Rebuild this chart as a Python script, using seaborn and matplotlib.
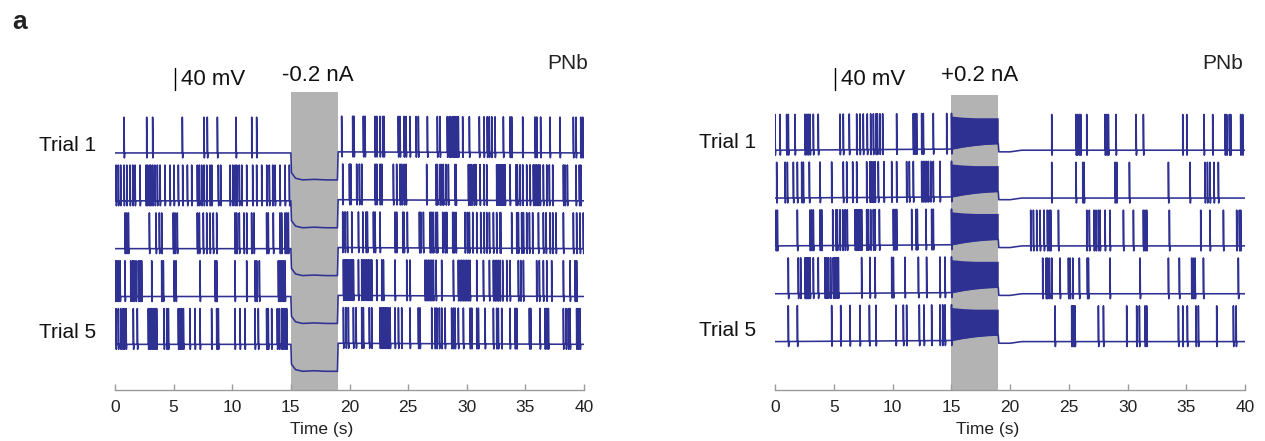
import numpy as np
import pandas as pd
import seaborn as sns
import matplotlib.pyplot as plt

# ---------------- data ----------------
trial_names = ["Trial 1", "Trial 2", "Trial 3", "Trial 4", "Trial 5"]
xticks = [0, 5, 10, 15, 20, 25, 30, 35, 40]
stim_window = [15.0, 19.0]  # s

# spike times (s), left panel (-0.2 nA)
left_spikes = [
    [0.77, 2.70, 3.21, 5.74, 7.59, 7.87, 8.73, 10.32, 11.66, 12.08,
     19.33, 20.27, 20.38, 21.18, 21.32, 22.17, 22.32, 22.60, 22.83, 22.94, 24.16, 24.31,
     24.65, 24.82, 25.16, 25.67, 25.87, 26.64, 27.49, 27.72, 28.34, 28.51, 28.63, 28.80,
     28.91, 29.03, 29.14, 29.28, 29.65, 30.22, 31.07, 31.47, 31.75, 31.92, 32.13, 32.41,
     33.12, 33.69, 33.83, 34.77, 35.82, 35.97, 36.30, 37.10, 37.95, 39.09, 39.32, 39.72, 39.89],
    [0.09, 0.28, 0.48, 0.77, 1.00, 1.28, 1.51, 1.71, 2.13, 2.64, 2.76, 2.93, 3.04, 3.21,
     3.41, 3.61, 3.84, 4.26, 4.69, 5.03, 5.40, 5.77, 6.17, 6.54, 7.02, 7.19, 7.39, 7.59,
     7.82, 8.10, 8.25, 8.81, 9.01, 9.81, 10.04, 10.23, 10.38, 10.60, 10.81, 11.23, 11.74,
     12.08, 12.51, 12.94, 13.16, 13.45, 13.65, 14.07, 14.50, 14.87,
     19.42, 19.99, 20.10, 20.61, 20.84, 21.04, 22.18, 22.32, 22.60, 22.75, 23.74, 24.02,
     24.31, 24.45, 24.65, 24.82, 26.58, 27.38, 27.49, 27.72, 27.86, 28.00, 28.23, 28.43,
     29.00, 29.08, 30.14, 30.28, 30.42, 30.62, 30.79, 31.13, 31.47, 31.70, 32.55, 32.69,
     32.84, 32.98, 33.12, 33.26, 33.69, 34.20, 34.31, 34.54, 34.77, 35.11, 35.40, 35.68,
     35.82, 35.96, 36.11, 36.25, 36.53, 36.82, 37.04, 37.33, 38.24, 38.38, 38.58, 39.32,
     39.60, 39.72],
    [0.85, 0.99, 1.14, 2.93, 3.50, 3.78, 3.98, 4.97, 5.12, 5.31, 7.02, 7.19, 7.53, 7.82,
     8.10, 8.38, 8.67, 10.23, 10.37, 10.60, 11.00, 11.23, 11.65, 11.85, 12.93, 13.07,
     13.50, 14.07, 14.21, 14.50, 14.64, 14.78,
     19.42, 19.62, 19.82, 20.19, 20.76, 21.13, 21.41, 21.52, 22.04, 22.18, 22.60, 23.88,
     24.02, 24.54, 24.65, 24.93, 25.96, 26.07, 26.30, 26.87, 27.01, 27.15, 27.38, 27.49,
     27.95, 28.15, 28.29, 28.80, 28.91, 29.08, 29.85, 30.05, 30.22, 30.51, 30.85, 31.19,
     31.47, 31.70, 31.93, 32.27, 32.55, 32.84, 32.89, 33.83, 34.26, 34.40, 34.68, 34.83,
     35.11, 35.34, 35.62, 36.11, 36.53, 36.76, 37.10, 37.33, 37.61, 38.24, 39.09, 39.37,
     39.66, 39.94],
    [0.00, 0.14, 0.28, 0.43, 0.85, 1.34, 1.51, 1.62, 1.79, 1.99, 2.13, 2.27, 3.13, 3.98,
     4.12, 5.03, 5.20, 7.25, 8.53, 8.61, 8.67, 10.23, 11.23, 11.94, 12.08, 12.31, 13.93,
     14.07, 14.21, 14.35, 14.50,
     19.48, 19.62, 19.76, 19.90, 20.05, 20.19, 20.33, 20.76, 21.04, 21.18, 21.32, 21.47,
     21.61, 21.75, 21.89, 22.32, 22.75, 22.89, 23.88, 24.88, 25.16, 26.44, 26.58, 26.73,
     26.87, 27.01, 27.15, 27.38, 27.86, 28.86, 29.28, 29.43, 29.57, 29.71, 29.85, 29.99,
     30.14, 30.28, 30.85, 31.42, 31.93, 32.27, 32.41, 32.55, 32.69, 32.84, 33.06, 33.41,
     33.69, 34.40, 34.60, 34.83, 35.96, 36.19, 36.53, 36.82, 37.24, 38.24, 38.81, 39.23,
     39.37],
    [0.08, 0.28, 0.48, 0.65, 0.77, 0.94, 1.56, 1.90, 2.84, 2.98, 3.13, 3.27, 3.41, 3.55,
     4.18, 4.41, 4.55, 5.40, 5.54, 5.68, 5.83, 6.39, 6.82, 7.25, 8.24, 8.67, 8.81, 10.23,
     10.66, 11.08, 11.94, 12.22, 12.93, 13.07, 13.36, 13.84, 14.01, 14.21, 14.35, 14.50,
     14.64,
     19.48, 19.70, 19.90, 20.33, 20.56, 21.04, 21.18, 21.69, 21.89, 22.60, 22.75, 22.89,
     23.03, 23.17, 23.31, 23.46, 23.88, 24.17, 24.45, 25.16, 25.87, 26.01, 27.01, 27.29,
     27.44, 27.66, 27.86, 28.15, 28.71, 28.86, 29.00, 29.28, 29.71, 30.28, 30.42, 30.85,
     30.99, 31.56, 32.27, 32.55, 32.69, 32.98, 33.69, 34.12, 34.26, 35.34, 35.45, 36.25,
     36.67, 36.82, 36.96, 38.24, 38.47, 38.66, 38.81, 39.37, 39.52, 39.66],
]

# spike times (s), right panel (+0.2 nA)
right_spikes = [
    [0.00, 0.42, 0.99, 1.13, 1.70, 2.55, 2.69, 2.83, 2.98, 3.26, 3.68, 5.53, 5.81, 6.32,
     6.95, 7.23, 7.51, 7.85, 8.14, 8.37, 8.59, 8.71, 8.93, 9.16, 10.35, 11.77, 11.91,
     12.05, 12.48, 12.62, 13.47, 14.61, 15.02,
     23.55, 25.62, 25.73, 25.90, 26.02, 26.53, 28.09, 28.23, 28.37, 29.02, 30.73, 31.35,
     34.70, 35.04, 36.51, 37.25, 38.30, 38.44, 38.67, 38.78, 39.63, 39.80],
    [0.14, 0.85, 1.05, 1.56, 1.90, 2.27, 2.41, 2.92, 3.83, 4.82, 5.81, 6.10, 6.61, 6.95,
     7.80, 8.08, 8.22, 8.37, 8.51, 8.79, 9.27, 9.93, 10.35, 11.20, 11.43, 11.77, 12.48,
     12.62, 12.76, 12.90, 13.05, 13.25, 13.47, 14.04, 15.02,
     23.55, 25.62, 26.19, 26.30, 28.94, 29.08, 30.16, 33.48, 35.32, 36.60, 36.80, 37.02,
     37.36, 37.73],
    [0.08, 0.20, 1.90, 2.98, 3.12, 3.26, 3.83, 3.97, 4.91, 5.19, 5.30, 5.53, 5.76, 5.96,
     6.15, 6.81, 6.95, 7.09, 7.23, 7.37, 7.80, 7.94, 8.14, 8.37, 8.51, 8.88, 10.07, 10.21,
     10.35, 11.63, 12.00, 12.11, 12.85, 13.33, 13.47, 15.02,
     21.76, 21.99, 22.27, 22.56, 22.90, 23.18, 23.35, 23.46, 24.12, 26.53, 26.75, 27.15,
     27.32, 27.52, 27.66, 28.09, 28.51, 29.65, 30.50, 31.35, 31.49, 31.63, 33.56, 36.23,
     37.02, 38.16, 39.29, 39.52, 39.63],
    [1.13, 1.98, 2.18, 2.55, 2.63, 2.69, 2.75, 2.83, 2.92, 2.98, 3.26, 3.68, 4.25, 4.39,
     4.54, 4.73, 4.96, 5.10, 5.25, 5.39, 7.37, 8.08, 8.51, 9.93, 10.07, 11.06, 12.20,
     12.90, 14.04, 14.47, 15.02,
     22.78, 23.07, 23.18, 23.35, 23.55, 24.26, 24.97, 25.11, 25.34, 25.90, 26.58, 26.67,
     28.51, 31.07, 33.48, 34.41, 35.46, 35.60, 35.75, 36.46, 39.43],
    [1.13, 1.90, 4.82, 5.59, 6.38, 7.23, 8.03, 8.59, 10.29, 10.92, 11.20, 12.28, 12.68,
     13.33, 14.04, 14.27, 14.47, 15.02,
     23.83, 25.25, 25.34, 25.45, 25.53, 27.52, 27.95, 29.93, 30.78, 31.01, 31.49, 31.63,
     34.33, 34.70, 35.09, 35.83, 36.03, 37.59, 39.01, 39.24],
]

# membrane level (mV, relative to rest) at knot times
left_knot_t = [0.0, 15.0, 15.05, 15.4, 16.0, 17.0, 18.0, 18.97, 19.03, 40.0]
left_knot_v = [0.0, 0.0, -36.0, -46.0, -49.0, -48.0, -49.0, -49.0, 2.0, 0.0]
right_knot_t = [0.0, 15.0, 16.0, 17.0, 18.0, 19.0, 19.05, 20.0, 21.0, 40.0]
right_knot_v = [0.0, 2.0, 6.0, 9.0, 11.0, 12.0, -3.0, -3.0, 0.0, 0.0]
# high-frequency firing envelope during +0.2 nA step (mV above rest)
band_t = [15.0, 16.0, 17.0, 18.0, 19.0]
band_top = [62.0, 60.0, 59.0, 59.0, 59.0]
band_bottom = [2.0, 6.0, 9.0, 11.0, 12.0]

trial_spacing = 87.0     # mV between stacked trials
spike_amp = 65.0         # mV
spike_under = 9.0        # mV
right_offset = 5.0       # mV

# ---------------- build traces ----------------
def build(spikes, kt, kv, base):
    ts = list(kt)
    for s in spikes:
        ts += [s, s + 0.001, s + 0.03, s + 0.06]
    ts = np.array(sorted(ts))
    vs = base + np.interp(ts, kt, kv)
    spk = np.array(spikes)
    peak_idx = np.searchsorted(ts, spk + 0.001)
    under_idx = np.searchsorted(ts, spk + 0.03)
    vs[peak_idx] += spike_amp
    vs[under_idx] -= spike_under
    return ts, vs

rows = []
for panel, spk_lists, kt, kv, off in [("L", left_spikes, left_knot_t, left_knot_v, 0.0),
                                     ("R", right_spikes, right_knot_t, right_knot_v, right_offset)]:
    for i, spikes in enumerate(spk_lists):
        base = off - trial_spacing * i
        t, v = build(spikes, kt, kv, base)
        rows.append(pd.DataFrame({"panel": panel, "trial": i, "t": t, "v": v}))
df = pd.concat(rows, ignore_index=True)

# ---------------- figure ----------------
sns.set_style("white")
plt.rcParams["font.family"] = ["Liberation Sans", "DejaVu Sans"]

W, H = 1265, 441
fig = plt.figure(figsize=(W / 100, H / 100), dpi=100)
axL = fig.add_axes([115 / W, 1 - 390 / H, 469 / W, 330 / H])
axR = fig.add_axes([775 / W, 1 - 390 / H, 470 / W, 330 / H])

blue = "#2E3192"
gray = "#B3B3B3"
ymin, ymax = -431.0, 169.0

for ax, panel, label, box_top, xlab_pos in [(axL, "L", "-0.2 nA", 111.0, 0.441),
                                             (axR, "R", "+0.2 nA", 105.0, 0.453)]:
    ax.set_xlim(0, 40)
    ax.set_ylim(ymin, ymax)
    ax.fill_between(stim_window, [ymin, ymin], [box_top, box_top], color=gray, lw=0, zorder=0)
    sub = df[df.panel == panel]
    sns.lineplot(data=sub, x="t", y="v", units="trial", estimator=None, sort=False,
                 color=blue, lw=1.15, ax=ax, legend=False, zorder=2)
    if panel == "R":
        for i in range(5):
            base = right_offset - trial_spacing * i
            ax.fill_between(band_t, [base + b for b in band_bottom], [base + b for b in band_top],
                            color=blue, lw=0, zorder=3)
    for s in ["left", "top", "right"]:
        ax.spines[s].set_visible(False)
    ax.spines["bottom"].set_color("#9a9a9a")
    ax.spines["bottom"].set_linewidth(1.0)
    ax.set_yticks([])
    ax.set_xticks(xticks)
    ax.tick_params(axis="x", bottom=True, direction="in", length=4, width=1.0, color="#9a9a9a",
                   labelsize=12.5, labelcolor="#222222", pad=7)
    ax.set_xlabel("Time (s)", fontsize=12.5, color="#222222", labelpad=5)
    ax.xaxis.label.set_x(xlab_pos)
    ax.set_ylabel("")
    # scale bar
    ax.plot([5.1, 5.1], [114, 154], color="black", lw=1.0, clip_on=False)
    ax.text(5.6, 134, "40 mV", fontsize=16, va="center", ha="left", color="#111111")
    ax.text(17.3 if panel == "L" else 17.4, 140, label, fontsize=16, va="center", ha="center",
            color="#111111")
    ax.text(40.3 if panel == "L" else 39.8, 162, "PNb", fontsize=15, va="center", ha="right",
            color="#222222")
    off = 0.0 if panel == "L" else right_offset
    ax.text(-1.6, off + 14, trial_names[0], fontsize=15, va="center", ha="right", color="#111111")
    ax.text(-1.6, off - trial_spacing * 4 + 21, trial_names[4], fontsize=15, va="center",
            ha="right", color="#111111")

fig.text(12 / W, 1 - 22 / H, "a", fontsize=19, fontweight="bold", va="center", ha="left",
         color="#222222")

fig.savefig("out.png", dpi=100)
